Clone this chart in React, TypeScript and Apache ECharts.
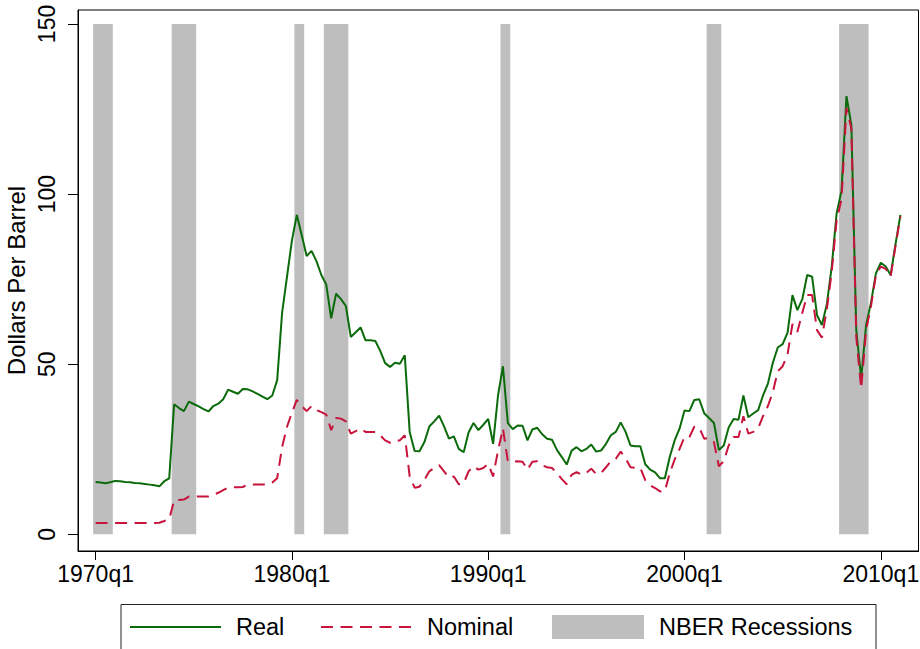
import { useEffect, useRef } from "react";
import * as echarts from "echarts";

// ---- data ----
const START_YEAR = 1970;
const xTickLabels = ["1970q1", "1980q1", "1990q1", "2000q1", "2010q1"];
const yTickValues = [0, 50, 100, 150];

// quarterly, 1970q1 .. 2011q1
const real = [
  15.4, 15.2, 15.0, 15.3, 15.7, 15.6, 15.4, 15.3, 15.1, 15.0, 14.8, 14.6, 14.4, 14.1, 15.6, 16.4,
  38.2, 37.1, 36.2, 39.0, 38.3, 37.6, 36.8, 36.1, 37.7, 38.4, 39.7, 42.5, 41.9, 41.3, 42.7, 42.6,
  42.0, 41.3, 40.5, 39.7, 40.8, 45.3, 65.1, 75.7, 86.3, 93.9, 87.9, 81.8, 83.3, 80.3, 76.2, 73.4,
  63.5, 70.7, 69.1, 67.1, 58.0, 59.4, 60.8, 57.0, 57.0, 56.8, 53.9, 50.3, 49.2, 50.4, 50.1, 52.6,
  30.1, 24.5, 24.4, 27.1, 31.7, 33.2, 34.9, 31.7, 28.1, 28.8, 25.1, 24.1, 29.9, 32.7, 30.6, 32.2,
  33.9, 26.6, 40.8, 49.4, 32.7, 30.9, 32.0, 31.9, 27.6, 30.8, 31.3, 29.4, 28.1, 27.8, 24.8, 22.7,
  20.5, 24.6, 25.6, 24.4, 25.1, 26.4, 24.3, 24.6, 26.6, 29.1, 30.1, 32.9, 30.1, 26.1, 25.9, 25.9,
  20.6, 19.0, 18.2, 16.5, 16.5, 22.8, 27.6, 31.1, 36.4, 36.2, 39.5, 39.7, 35.6, 34.2, 32.7, 24.8,
  26.1, 31.4, 33.9, 33.7, 40.8, 34.4, 35.5, 36.5, 40.8, 44.3, 50.4, 54.9, 55.9, 59.3, 70.3, 65.9,
  69.1, 76.2, 75.7, 64.4, 61.5, 67.6, 78.7, 94.4, 101.0, 128.8, 120.3, 60.0, 45.8, 61.5, 68.1, 76.7,
  79.8, 78.7, 76.2, 85.3, 93.9,
];

const nominal = [
  3.35, 3.35, 3.35, 3.35, 3.35, 3.35, 3.35, 3.35, 3.35, 3.35, 3.35, 3.35, 3.35, 3.4, 3.9, 4.5,
  9.9, 10.1, 10.2, 11.1, 11.1, 11.1, 11.1, 11.1, 11.6, 12.2, 13.0, 13.7, 13.8, 13.8, 13.9, 14.6,
  14.6, 14.6, 14.6, 14.6, 15.2, 16.5, 25.6, 31.6, 35.7, 39.5, 37.7, 36.2, 37.7, 36.5, 35.9, 35.2,
  30.6, 34.2, 34.0, 33.2, 29.6, 30.3, 31.1, 30.1, 30.1, 30.1, 29.1, 27.6, 26.9, 27.6, 27.6, 29.1,
  17.0, 13.7, 14.0, 16.0, 18.5, 19.5, 20.3, 18.5, 16.7, 17.0, 14.7, 15.0, 18.5, 20.0, 19.0, 19.5,
  20.7, 17.0, 24.6, 31.1, 21.5, 21.3, 21.5, 21.3, 19.0, 21.3, 21.5, 20.3, 19.7, 19.5, 18.0, 16.2,
  14.7, 17.5, 18.3, 17.5, 18.0, 19.3, 17.7, 18.0, 19.7, 21.5, 22.2, 24.3, 22.3, 19.7, 19.5, 19.5,
  15.9, 14.4, 13.6, 12.6, 12.7, 18.0, 22.0, 25.1, 28.6, 28.6, 31.6, 31.4, 28.1, 28.3, 27.1, 20.0,
  21.5, 26.1, 28.6, 28.6, 34.7, 29.6, 30.1, 31.1, 34.7, 37.7, 41.8, 47.9, 49.4, 52.9, 61.8, 59.5,
  65.1, 70.3, 70.3, 60.0, 57.8, 66.1, 77.2, 92.4, 98.5, 125.3, 119.3, 58.0, 42.8, 60.0, 67.1, 76.2,
  78.7, 78.0, 75.7, 84.8, 93.4,
];

const recessionStart = ["1970q1", "1974q1", "1980q2", "1981q4", "1990q4", "2001q2", "2008q1"];
const recessionEnd = ["1970q4", "1975q1", "1980q3", "1982q4", "1991q1", "2001q4", "2009q2"];
const recessionTop = 150;

// ---- helpers ----
function qIndex(label: string): number {
  const [y, q] = label.split("q");
  return (Number(y) - START_YEAR) * 4 + Number(q) - 1;
}
function qLabel(i: number): string {
  return `${START_YEAR + Math.floor(i / 4)}q${(i % 4) + 1}`;
}

const FONT = "'Liberation Sans', Arial, Helvetica, sans-serif";
const GREEN = "#0b6b0b";
const RED = "#c8143c";
const GRAY = "#bebebe";

export default function App() {
  const ref = useRef<HTMLDivElement>(null);

  useEffect(() => {
    if (!ref.current) return;
    const chart = echarts.init(ref.current, null, { renderer: "svg" });
    const xTicks = xTickLabels.map(qIndex);
    const realData = real.map((v, i) => [i, v]);
    const nominalData = nominal.map((v, i) => [i, v]);
    const areas = recessionStart.map((s, k) => [
      { xAxis: qIndex(s) - 0.5, yAxis: 0 },
      { xAxis: qIndex(recessionEnd[k]) + 0.5, yAxis: recessionTop },
    ]);

    const legendY = 627;
    const legendFont = 23.5;
    chart.setOption({
      animation: false,
      textStyle: { fontFamily: FONT },
      grid: {
        left: 78,
        right: 1.5,
        top: 10,
        bottom: 98,
        show: true,
        borderColor: "#000",
        borderWidth: 1,
        backgroundColor: "#fff",
        containLabel: false,
        outerBoundsMode: "none",
      },
      xAxis: {
        type: "value",
        min: -3.586,
        max: 167.68,
        axisLine: { show: true, onZero: false, lineStyle: { color: "#000", width: 1 } },
        axisTick: { show: true, length: 9, customValues: xTicks, lineStyle: { color: "#000" } },
        axisLabel: {
          customValues: xTicks,
          formatter: (v: number) => qLabel(Math.round(v)),
          fontSize: 23,
          color: "#000",
          fontFamily: FONT,
          margin: 11,
        },
        splitLine: { show: false },
      },
      yAxis: {
        type: "value",
        min: -4.91,
        max: 154.1,
        name: "Dollars Per Barrel",
        nameLocation: "middle",
        nameRotate: 90,
        nameGap: 50,
        nameMoveOverlap: false,
        nameTextStyle: { fontSize: 24, color: "#000", fontFamily: FONT },
        axisLine: { show: true, onZero: false, lineStyle: { color: "#000", width: 1 } },
        axisTick: { show: true, length: 10, customValues: yTickValues, lineStyle: { color: "#000" } },
        axisLabel: {
          customValues: yTickValues,
          rotate: 90,
          fontSize: 23,
          color: "#000",
          fontFamily: FONT,
          margin: 20,
        },
        splitLine: { show: false },
      },
      series: [
        {
          name: "NBER Recessions",
          type: "line",
          data: [],
          z: 1,
          silent: true,
          markArea: {
            silent: true,
            itemStyle: { color: GRAY },
            data: areas,
          },
        },
        {
          name: "Real",
          type: "line",
          data: realData,
          symbol: "none",
          z: 3,
          lineStyle: { color: GREEN, width: 2 },
          itemStyle: { color: GREEN },
        },
        {
          name: "Nominal",
          type: "line",
          data: nominalData,
          symbol: "none",
          z: 4,
          lineStyle: { color: RED, width: 2, type: [12, 7.5] },
          itemStyle: { color: RED },
        },
      ],
      graphic: [
        {
          type: "rect",
          shape: { x: 121, y: 604.5, width: 755, height: 80 },
          style: { fill: "#fff", stroke: "#222", lineWidth: 1 },
          z: 10,
        },
        {
          type: "line",
          shape: { x1: 130, y1: legendY, x2: 221, y2: legendY },
          style: { stroke: GREEN, lineWidth: 2 },
          z: 11,
        },
        {
          type: "text",
          x: 236,
          y: legendY,
          style: { text: "Real", fontSize: legendFont, fontFamily: FONT, fill: "#000", verticalAlign: "middle" },
          z: 11,
        },
        {
          type: "line",
          shape: { x1: 321, y1: legendY, x2: 411, y2: legendY },
          style: { stroke: RED, lineWidth: 2, lineDash: [12, 7.5] },
          z: 11,
        },
        {
          type: "text",
          x: 427,
          y: legendY,
          style: { text: "Nominal", fontSize: legendFont, fontFamily: FONT, fill: "#000", verticalAlign: "middle" },
          z: 11,
        },
        {
          type: "rect",
          shape: { x: 552, y: 615, width: 92, height: 24 },
          style: { fill: GRAY },
          z: 11,
        },
        {
          type: "text",
          x: 659,
          y: legendY,
          style: { text: "NBER Recessions", fontSize: legendFont, fontFamily: FONT, fill: "#000", verticalAlign: "middle" },
          z: 11,
        },
      ],
    });
    return () => chart.dispose();
  }, []);

  return (
    <div
      ref={ref}
      style={{ position: "absolute", left: 0, top: 0, width: 920, height: 649, background: "#fff" }}
    />
  );
}
